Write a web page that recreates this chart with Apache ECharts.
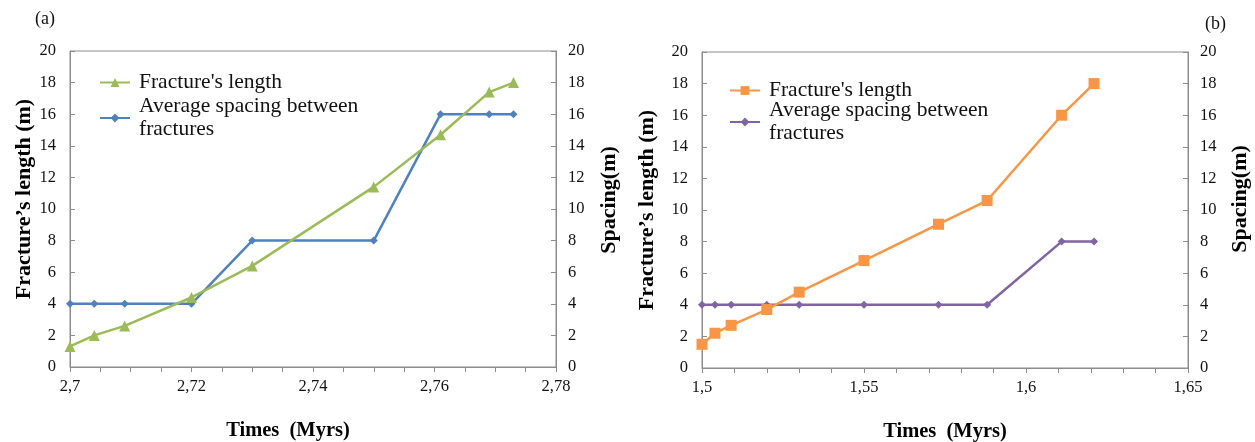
<!DOCTYPE html>
<html>
<head>
<meta charset="utf-8">
<script src="https://cdn.jsdelivr.net/npm/echarts@6/dist/echarts.min.js"></script>
<style>
html,body{margin:0;padding:0;background:#fff;}
#a{position:absolute;left:0;top:0;width:628px;height:442px;}
#b{position:absolute;left:628px;top:0;width:627px;height:442px;}
</style>
</head>
<body>
<div id="a"></div>
<div id="b"></div>
<script>
// Panel (a)
var timeA = [2.7, 2.704, 2.709, 2.72, 2.73, 2.75, 2.761, 2.769, 2.773];
var lengthA = [1.3, 2.0, 2.6, 4.4, 6.4, 11.4, 14.7, 17.4, 18.0];
var spacingA = [4, 4, 4, 4, 8, 8, 16, 16, 16];
var xTicksA = ['2,7', '2,72', '2,74', '2,76', '2,78'];
// Panel (b)
var timeB = [1.5, 1.504, 1.509, 1.52, 1.53, 1.55, 1.573, 1.588, 1.611, 1.621];
var lengthB = [1.5, 2.2, 2.7, 3.7, 4.8, 6.8, 9.1, 10.6, 16.0, 18.0];
var spacingB = [4, 4, 4, 4, 4, 4, 4, 4, 8, 8];
var xTicksB = ['1,5', '1,55', '1,6', '1,65'];
var yTicks = ['0', '2', '4', '6', '8', '10', '12', '14', '16', '18', '20'];

var FONT = '"Liberation Serif", "DejaVu Serif", serif';
var AX = '#8c8c8c';

function zip(xs, ys) { return xs.map(function (x, i) { return [x, ys[i]]; }); }

function build(cfg) {
  function yAxis(pos, name, gap, pad) {
    return {
      type: 'value', position: pos, min: 0, max: 20, interval: 2,
      name: name, nameLocation: 'middle', nameGap: gap, nameRotate: 90, nameMoveOverlap: false,
      nameTextStyle: { fontFamily: FONT, fontWeight: 'bold', fontSize: 22, color: '#000', padding: pad },
      axisLine: { show: true, lineStyle: { color: AX, width: 1 } },
      axisTick: { show: true, inside: true, length: 5, lineStyle: { color: AX } },
      splitLine: { show: false },
      axisLabel: { fontFamily: FONT, fontSize: 16.5, color: '#111', margin: pos === 'left' ? 14 : 12,
        formatter: function (v, i) { return yTicks[i]; } }
    };
  }
  return {
    animation: false,
    backgroundColor: '#fff',
    textStyle: { fontFamily: FONT },
    graphic: [{ type: 'text', left: cfg.tagX, top: cfg.tagY,
      style: { text: cfg.tag, font: '18px ' + FONT, fill: '#111' } }],
    grid: { left: cfg.grid[0], right: cfg.grid[1], top: cfg.grid[2], bottom: cfg.grid[3],
      outerBoundsMode: 'none', containLabel: false,
      show: true, borderColor: AX, borderWidth: 1 },
    legend: {
      orient: 'vertical', left: cfg.legLeft, top: cfg.legTop, itemGap: cfg.legGap,
      itemWidth: 30, itemHeight: 11,
      textStyle: { fontFamily: FONT, fontSize: 21.5, color: '#111', lineHeight: 23, padding: [0, 0, 0, 4] },
      formatter: function (n) { return n.replace(' fractures', '\nfractures'); },
      data: [cfg.s1.name, cfg.s2.name]
    },
    xAxis: {
      type: 'value', min: cfg.xmin, max: cfg.xmax, interval: cfg.xint,
      name: 'Times  (Myrs)', nameLocation: 'middle', nameGap: 53, nameMoveOverlap: false,
      nameTextStyle: { fontFamily: FONT, fontWeight: 'bold', fontSize: 20.5, color: '#000', padding: cfg.xNamePad },
      axisLine: { show: true, lineStyle: { color: AX, width: 1 } },
      axisTick: { show: true, length: 5, lineStyle: { color: AX } },
      minorTick: { show: true, splitNumber: cfg.minor, length: 5, lineStyle: { color: AX } },
      splitLine: { show: false },
      axisLabel: { fontFamily: FONT, fontSize: 16.5, color: '#111', margin: 11,
        formatter: function (v, i) { return cfg.xTicks[i]; } }
    },
    yAxis: [yAxis('left', 'Fracture\u2019s length (m)', cfg.lGap, cfg.lPad),
            yAxis('right', 'Spacing(m)', cfg.rGap, cfg.rPad)],
    series: [
      { name: cfg.s1.name, type: 'line', yAxisIndex: 0, data: zip(cfg.x, cfg.s1.data),
        symbol: cfg.s1.symbol, symbolSize: cfg.s1.size,
        lineStyle: { color: cfg.s1.color, width: 2.5 }, itemStyle: { color: cfg.s1.color }, z: cfg.s1.z },
      { name: cfg.s2.name, type: 'line', yAxisIndex: 1, data: zip(cfg.x, cfg.s2.data),
        symbol: cfg.s2.symbol, symbolSize: cfg.s2.size,
        lineStyle: { color: cfg.s2.color, width: 2.5 }, itemStyle: { color: cfg.s2.color }, z: cfg.s2.z }
    ]
  };
}

var chartA = echarts.init(document.getElementById('a'), null, { renderer: 'canvas' });
chartA.setOption(build({
  tag: '(a)', tagX: 35, tagY: 10,
  grid: [70, 72, 51, 75],
  xmin: 2.7, xmax: 2.78, xint: 0.02, minor: 4, xTicks: xTicksA, xNamePad: [0, 50, 0, 0],
  lGap: 35, rGap: 42, lPad: [0, 0, 0, 20], rPad: [0, 0, 0, 18],
  legLeft: 94, legTop: 66, legGap: 1,
  x: timeA,
  s1: { name: "Fracture's length", data: lengthA, color: '#9BBB59', symbol: 'triangle', size: 11, z: 3 },
  s2: { name: 'Average spacing between fractures', data: spacingA, color: '#4F81BD', symbol: 'diamond', size: 8, z: 2 }
}));

var chartB = echarts.init(document.getElementById('b'), null, { renderer: 'canvas' });
chartB.setOption(build({
  tag: '(b)', tagX: 577, tagY: 15,
  grid: [74, 67, 52, 74],
  xmin: 1.5, xmax: 1.65, xint: 0.05, minor: 5, xTicks: xTicksB, xNamePad: [0, 0, 0, 0],
  lGap: 44, rGap: 41, lPad: [0, 0, 0, 0], rPad: [0, 0, 0, 22],
  legLeft: 96, legTop: 74, legGap: -3,
  x: timeB,
  s1: { name: "Fracture's length", data: lengthB, color: '#F79646', symbol: 'rect', size: 11, z: 3 },
  s2: { name: 'Average spacing between fractures', data: spacingB, color: '#8064A2', symbol: 'diamond', size: 8, z: 2 }
}));
</script>
</body>
</html>
